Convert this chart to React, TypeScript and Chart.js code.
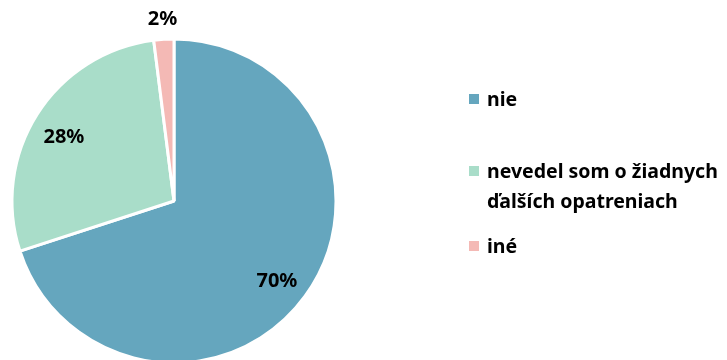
import React, { useEffect, useRef } from "react";
import { Chart, registerables } from "chart.js";

Chart.register(...registerables);

const categories = ["nie", "nevedel som o žiadnych ďalších opatreniach", "iné"];
const legendLines = [["nie"], ["nevedel som o žiadnych", "ďalších opatreniach"], ["iné"]];
const values = [70, 28, 2];
const valueLabels = ["70%", "28%", "2%"];
const colors = ["#65A6BE", "#A9DDC9", "#F4B9B5"];

const FONT = "'Noto Sans', 'Open Sans', 'DejaVu Sans', sans-serif";

const labelPlugin = {
  id: "sliceLabels",
  afterDatasetsDraw(chart: any) {
    const ctx = chart.ctx;
    const meta = chart.getDatasetMeta(0);
    const factors = [0.8, 0.79, 1.135];
    const angleShift = [0.025, -0.03, 0];
    ctx.save();
    ctx.fillStyle = "#000";
    ctx.font = `bold 20px ${FONT}`;
    ctx.textAlign = "center";
    ctx.textBaseline = "middle";
    meta.data.forEach((arc: any, i: number) => {
      const mid = (arc.startAngle + arc.endAngle) / 2 + angleShift[i];
      const r = arc.outerRadius * factors[i];
      const x = arc.x + Math.cos(mid) * r;
      const y = arc.y + Math.sin(mid) * r + 2;
      ctx.fillText(valueLabels[i], x, y);
    });
    ctx.restore();
  },
};

const legendPlugin = {
  id: "sideLegend",
  afterDraw(chart: any) {
    const ctx = chart.ctx;
    const ds = chart.data.datasets[0];
    const itemY = [99, 171, 246];
    const lineGap = 30;
    const boxX = 469;
    const textX = 487;
    ctx.save();
    ctx.font = `bold 19.5px ${FONT}`;
    ctx.textBaseline = "middle";
    ctx.textAlign = "left";
    legendLines.forEach((lines, i) => {
      ctx.fillStyle = ds.backgroundColor[i];
      ctx.fillRect(boxX, itemY[i] - 5, 10, 10);
      ctx.fillStyle = "#000";
      lines.forEach((t, j) => ctx.fillText(t, textX, itemY[i] + 1 + j * lineGap));
    });
    ctx.restore();
  },
};

export default function App() {
  const ref = useRef<HTMLCanvasElement>(null);
  useEffect(() => {
    if (!ref.current) return;
    const chart = new Chart(ref.current, {
      type: "pie",
      data: {
        labels: categories,
        datasets: [
          {
            data: values,
            backgroundColor: colors,
            borderColor: "#ffffff",
            borderWidth: 3,
            radius: 162,
            clip: false as any,
          } as any,
        ],
      },
      options: {
        responsive: false,
        animation: false,
        layout: { padding: { left: 0, right: 379, top: 42, bottom: 0 } },
        plugins: {
          legend: { display: false },
          tooltip: { enabled: false },
        },
      },
      plugins: [labelPlugin, legendPlugin],
    });
    return () => chart.destroy();
  }, []);
  return (
    <div style={{ position: "absolute", left: 0, top: 0, width: 727, height: 360, overflow: "hidden", background: "#fff" }}>
      <canvas ref={ref} width={727} height={360} style={{ display: "block" }} />
    </div>
  );
}
